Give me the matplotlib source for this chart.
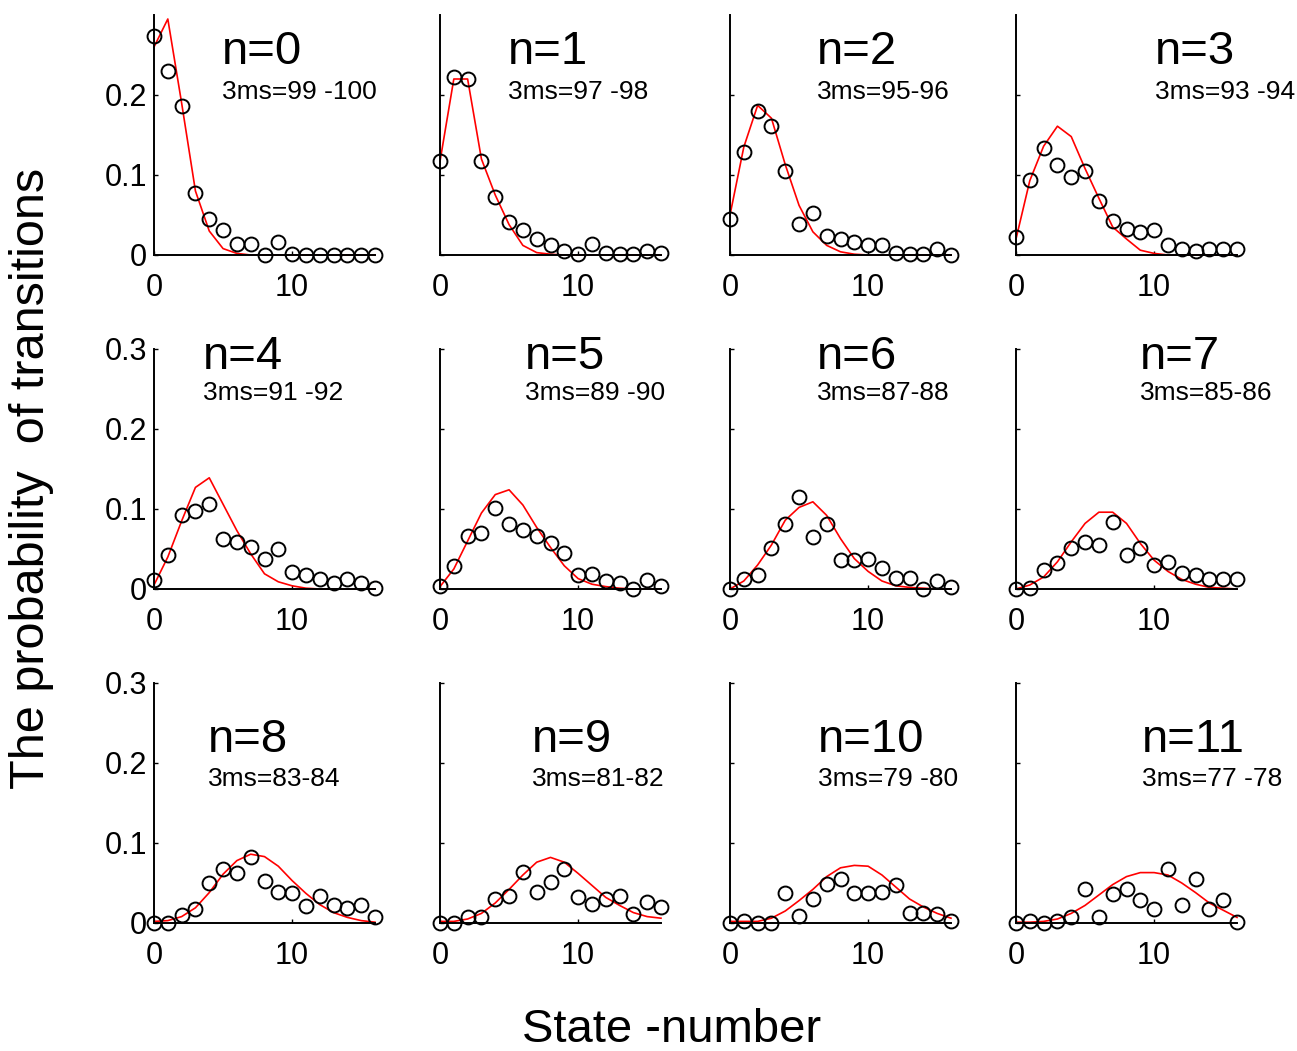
import matplotlib
matplotlib.use("Agg")
import matplotlib.pyplot as plt
import numpy as np

plt.rcParams['font.family'] = ['Liberation Sans', 'DejaVu Sans']

states = list(range(17))

panel_titles = ["n=0", "n=1", "n=2", "n=3", "n=4", "n=5",
                "n=6", "n=7", "n=8", "n=9", "n=10", "n=11"]
panel_subtitles = ["3ms=99 -100", "3ms=97 -98", "3ms=95-96", "3ms=93 -94",
                   "3ms=91 -92", "3ms=89 -90", "3ms=87-88", "3ms=85-86",
                   "3ms=83-84", "3ms=81-82", "3ms=79 -80", "3ms=77 -78"]

obs0 = [0.274, 0.230, 0.186, 0.077, 0.045, 0.031, 0.014, 0.014, 0.0, 0.016,
        0.001, 0.0, 0.0, 0.0, 0.0, 0.0, 0.0]
obs1 = [0.117, 0.222, 0.220, 0.117, 0.073, 0.041, 0.031, 0.020, 0.012, 0.005,
        0.001, 0.014, 0.003, 0.001, 0.001, 0.005, 0.003]
obs2 = [0.045, 0.129, 0.180, 0.161, 0.105, 0.039, 0.052, 0.024, 0.020, 0.016,
        0.012, 0.012, 0.003, 0.001, 0.001, 0.008, 0.0]
obs3 = [0.023, 0.094, 0.134, 0.113, 0.098, 0.105, 0.068, 0.043, 0.033, 0.029,
        0.031, 0.012, 0.008, 0.005, 0.008, 0.008, 0.008]
obs4 = [0.011, 0.042, 0.092, 0.098, 0.106, 0.063, 0.059, 0.052, 0.038, 0.050,
        0.021, 0.017, 0.013, 0.007, 0.013, 0.007, 0.001]
obs5 = [0.004, 0.029, 0.066, 0.070, 0.101, 0.081, 0.074, 0.066, 0.058, 0.045,
        0.017, 0.019, 0.010, 0.008, 0.0, 0.011, 0.004]
obs6 = [0.0, 0.012, 0.018, 0.051, 0.081, 0.115, 0.065, 0.081, 0.036, 0.036,
        0.038, 0.026, 0.014, 0.014, 0.0, 0.010, 0.003]
obs7 = [0.0, 0.001, 0.024, 0.032, 0.051, 0.059, 0.055, 0.084, 0.043, 0.051,
        0.030, 0.034, 0.020, 0.018, 0.012, 0.012, 0.012]
obs8 = [0.0, 0.0, 0.010, 0.017, 0.050, 0.067, 0.063, 0.082, 0.053, 0.039,
        0.037, 0.021, 0.034, 0.023, 0.019, 0.023, 0.008]
obs9 = [0.0, 0.0, 0.007, 0.007, 0.030, 0.034, 0.064, 0.039, 0.051, 0.068,
        0.032, 0.024, 0.030, 0.034, 0.011, 0.026, 0.020]
obs10 = [0.0, 0.003, 0.0, 0.0, 0.037, 0.009, 0.030, 0.049, 0.055, 0.037,
         0.037, 0.039, 0.047, 0.013, 0.013, 0.011, 0.003]
obs11 = [0.0, 0.002, 0.0, 0.002, 0.008, 0.042, 0.008, 0.036, 0.042, 0.029,
         0.017, 0.067, 0.023, 0.055, 0.017, 0.029, 0.001]

fit0 = [0.26, 0.295, 0.19, 0.08, 0.03, 0.008, 0.002, 0.0, 0.0, 0.0,
        0.0, 0.0, 0.0, 0.0, 0.0, 0.0, 0.0]
fit1 = [0.117, 0.22, 0.22, 0.12, 0.075, 0.038, 0.012, 0.003, 0.001, 0.0,
        0.0, 0.0, 0.0, 0.0, 0.0, 0.0, 0.0]
fit2 = [0.05, 0.135, 0.187, 0.171, 0.113, 0.062, 0.029, 0.012, 0.004, 0.001,
        0.0, 0.0, 0.0, 0.0, 0.0, 0.0, 0.0]
fit3 = [0.02, 0.093, 0.136, 0.161, 0.148, 0.108, 0.071, 0.035, 0.02, 0.006,
        0.002, 0.0, 0.0, 0.0, 0.0, 0.0, 0.0]
fit4 = [0.005, 0.04, 0.085, 0.127, 0.139, 0.106, 0.073, 0.044, 0.019, 0.009,
        0.004, 0.001, 0.0, 0.0, 0.0, 0.0, 0.0]
fit5 = [0.003, 0.025, 0.06, 0.095, 0.118, 0.124, 0.105, 0.077, 0.052, 0.029,
        0.013, 0.006, 0.003, 0.001, 0.0, 0.0, 0.0]
fit6 = [0.0, 0.01, 0.03, 0.055, 0.086, 0.102, 0.109, 0.092, 0.063, 0.038,
        0.022, 0.01, 0.004, 0.002, 0.001, 0.0, 0.0]
fit7 = [0.0, 0.005, 0.015, 0.034, 0.059, 0.082, 0.096, 0.096, 0.082, 0.057,
        0.036, 0.022, 0.012, 0.006, 0.002, 0.001, 0.0]
fit8 = [0.002, 0.003, 0.008, 0.019, 0.038, 0.061, 0.078, 0.086, 0.083, 0.071,
        0.053, 0.037, 0.023, 0.013, 0.007, 0.003, 0.001]
fit9 = [0.002, 0.002, 0.005, 0.012, 0.025, 0.042, 0.06, 0.076, 0.082, 0.076,
        0.062, 0.047, 0.032, 0.022, 0.013, 0.008, 0.006]
fit10 = [0.002, 0.002, 0.002, 0.006, 0.015, 0.028, 0.042, 0.058, 0.069, 0.072,
         0.071, 0.06, 0.045, 0.03, 0.02, 0.012, 0.006]
fit11 = [0.001, 0.001, 0.002, 0.005, 0.012, 0.022, 0.035, 0.048, 0.058, 0.063,
         0.063, 0.06, 0.05, 0.038, 0.025, 0.016, 0.007]

observed = [obs0, obs1, obs2, obs3, obs4, obs5, obs6, obs7, obs8, obs9, obs10, obs11]
fitted = [fit0, fit1, fit2, fit3, fit4, fit5, fit6, fit7, fit8, fit9, fit10, fit11]

xlabel_text = "State -number"
ylabel_text = "The probability  of transitions"

W, H = 1297, 1051
fig = plt.figure(figsize=(W / 100, H / 100), dpi=100)

col_left = [154, 440, 730, 1016]
row_bottom = [255, 589, 923]
ax_w, ax_h = 221, 240

title_dx = [68, 68, 87, 139, 49, 85, 87, 124, 54, 92, 88, 126]
row_title_y = [0.846, 0.967, 0.7625]
row_sub_y = [0.679, 0.817, 0.60]

for i in range(12):
    r, c = divmod(i, 4)
    left = col_left[c] / W
    bottom = 1 - row_bottom[r] / H
    ax = fig.add_axes([left, bottom, ax_w / W, ax_h / H])
    ax.plot(states, fitted[i], color='#ff0000', lw=1.2, zorder=2, clip_on=False)
    ax.plot(states, observed[i], linestyle='none', marker='o', ms=10,
            mfc='none', mec='black', mew=1.4, zorder=3, clip_on=False)
    ax.set_xlim(0, 16)
    ax.set_ylim(0, 0.3)
    for s in ['top', 'right']:
        ax.spines[s].set_visible(False)
    for s in ['left', 'bottom']:
        ax.spines[s].set_linewidth(1.4)
    ax.set_xticks([0, 10])
    ax.set_xticklabels(['0', '10'])
    if r == 0:
        yt = [0, 0.1, 0.2]
        ylabs = ['0', '0.1', '0.2']
    else:
        yt = [0, 0.1, 0.2, 0.3]
        ylabs = ['0', '0.1', '0.2', '0.3']
    ax.set_yticks(yt)
    if c == 0:
        ax.set_yticklabels(ylabs)
    else:
        ax.set_yticklabels([])
    ax.tick_params(direction='in', length=3, width=1, labelsize=22)
    ax.tick_params(axis='x', pad=13)
    ax.tick_params(axis='y', pad=5)
    ax.text(title_dx[i] / ax_w, row_title_y[r], panel_titles[i],
            transform=ax.transAxes, ha='left', va='center', fontsize=34)
    ax.text(title_dx[i] / ax_w, row_sub_y[r], panel_subtitles[i],
            transform=ax.transAxes, ha='left', va='center', fontsize=19)

fig.text(32 / W, 1 - 478 / H, ylabel_text, rotation=90, ha='center', va='center',
         fontsize=35)
fig.text(672 / W, 1 - 1030 / H, xlabel_text, ha='center', va='center', fontsize=34)

fig.savefig("out.png", dpi=100)
